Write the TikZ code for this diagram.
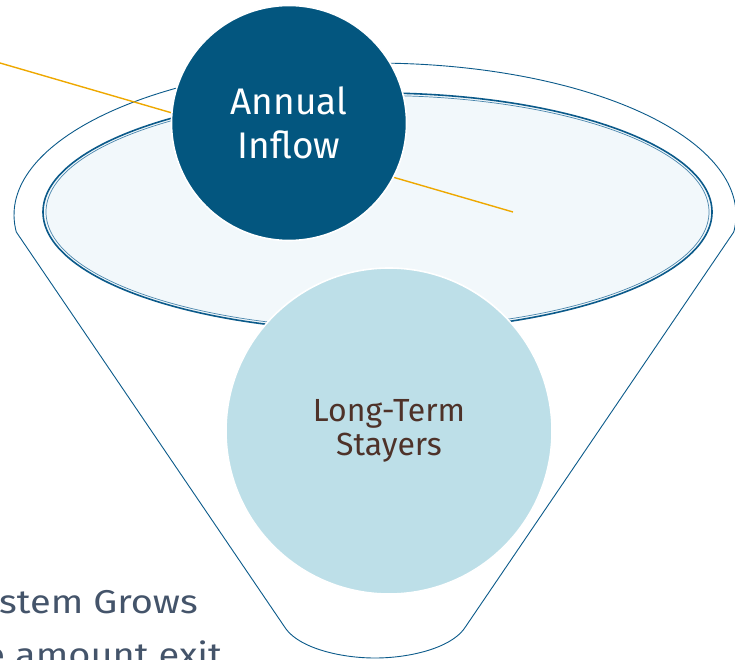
\documentclass[tikz,border=0pt]{standalone}
\usepackage{fontspec}
\setmainfont{Fira Sans}
\newfontfamily\capfont[FakeStretch=1.15]{Fira Sans}
\definecolor{outl}{HTML}{0B5A8A}
\definecolor{darkc}{HTML}{03567F}
\definecolor{lightc}{HTML}{BDDFE8}
\definecolor{bowl}{HTML}{F2F8FB}
\definecolor{inner2}{HTML}{4A86AC}
\definecolor{orng}{HTML}{EEA800}
\definecolor{grayt}{HTML}{44546A}
\definecolor{brownt}{HTML}{4E3229}
\tikzset{
  funnel/.style={draw=outl, line width=0.9pt},
  bigcirc/.style={circle, draw=white, line width=1.6pt, inner sep=0pt, align=center},
  caption/.style={inner sep=0pt, text=grayt, font=\capfont\fontsize{33}{40}\selectfont},
}
\begin{document}
\begin{tikzpicture}[x=1pt,y=-1pt]
\useasboundingbox (0,0) rectangle (735,660);
\clip (0,0) rectangle (735,660);
% funnel outline
\draw[funnel] (16.3,232) arc[start angle=173.6,end angle=366.4,x radius=361,y radius=152]
  -- (464,629) .. controls (450,648) and (410,658) .. (375,658)
  .. controls (340,658) and (300,648) .. (286,629) -- cycle;
% bowl surface
\fill[bowl] (377.5,212) ellipse[x radius=334.5,y radius=119];
\draw[inner2, line width=0.7pt] (377.5,212) ellipse[x radius=331.5,y radius=116.5];
\draw[outl, line width=1.6pt] (377.5,212) ellipse[x radius=334.5,y radius=119];
% orange line
\coordinate (o1) at (0,63);
\coordinate (o2) at (513,212);
\draw[orng, line width=1.4pt] (o1) -- (o2);
% circles
\node[bigcirc, fill=darkc, minimum size=235pt, text=white,
  font=\fontsize{37}{44}\selectfont] (inflow) at (289,123) {Annual\\Inflow};
\node[bigcirc, fill=lightc, minimum size=326pt, text=brownt,
  font=\fontsize{32}{34}\selectfont] (stayers) at (389,431) {Long-Term\\Stayers};
% bottom text
\node[caption, anchor=base west] (cap1) at (-1,613) {stem Grows};
\node[caption, anchor=base east] (cap2) at (222,666) {e amount exit};
\end{tikzpicture}
\end{document}
